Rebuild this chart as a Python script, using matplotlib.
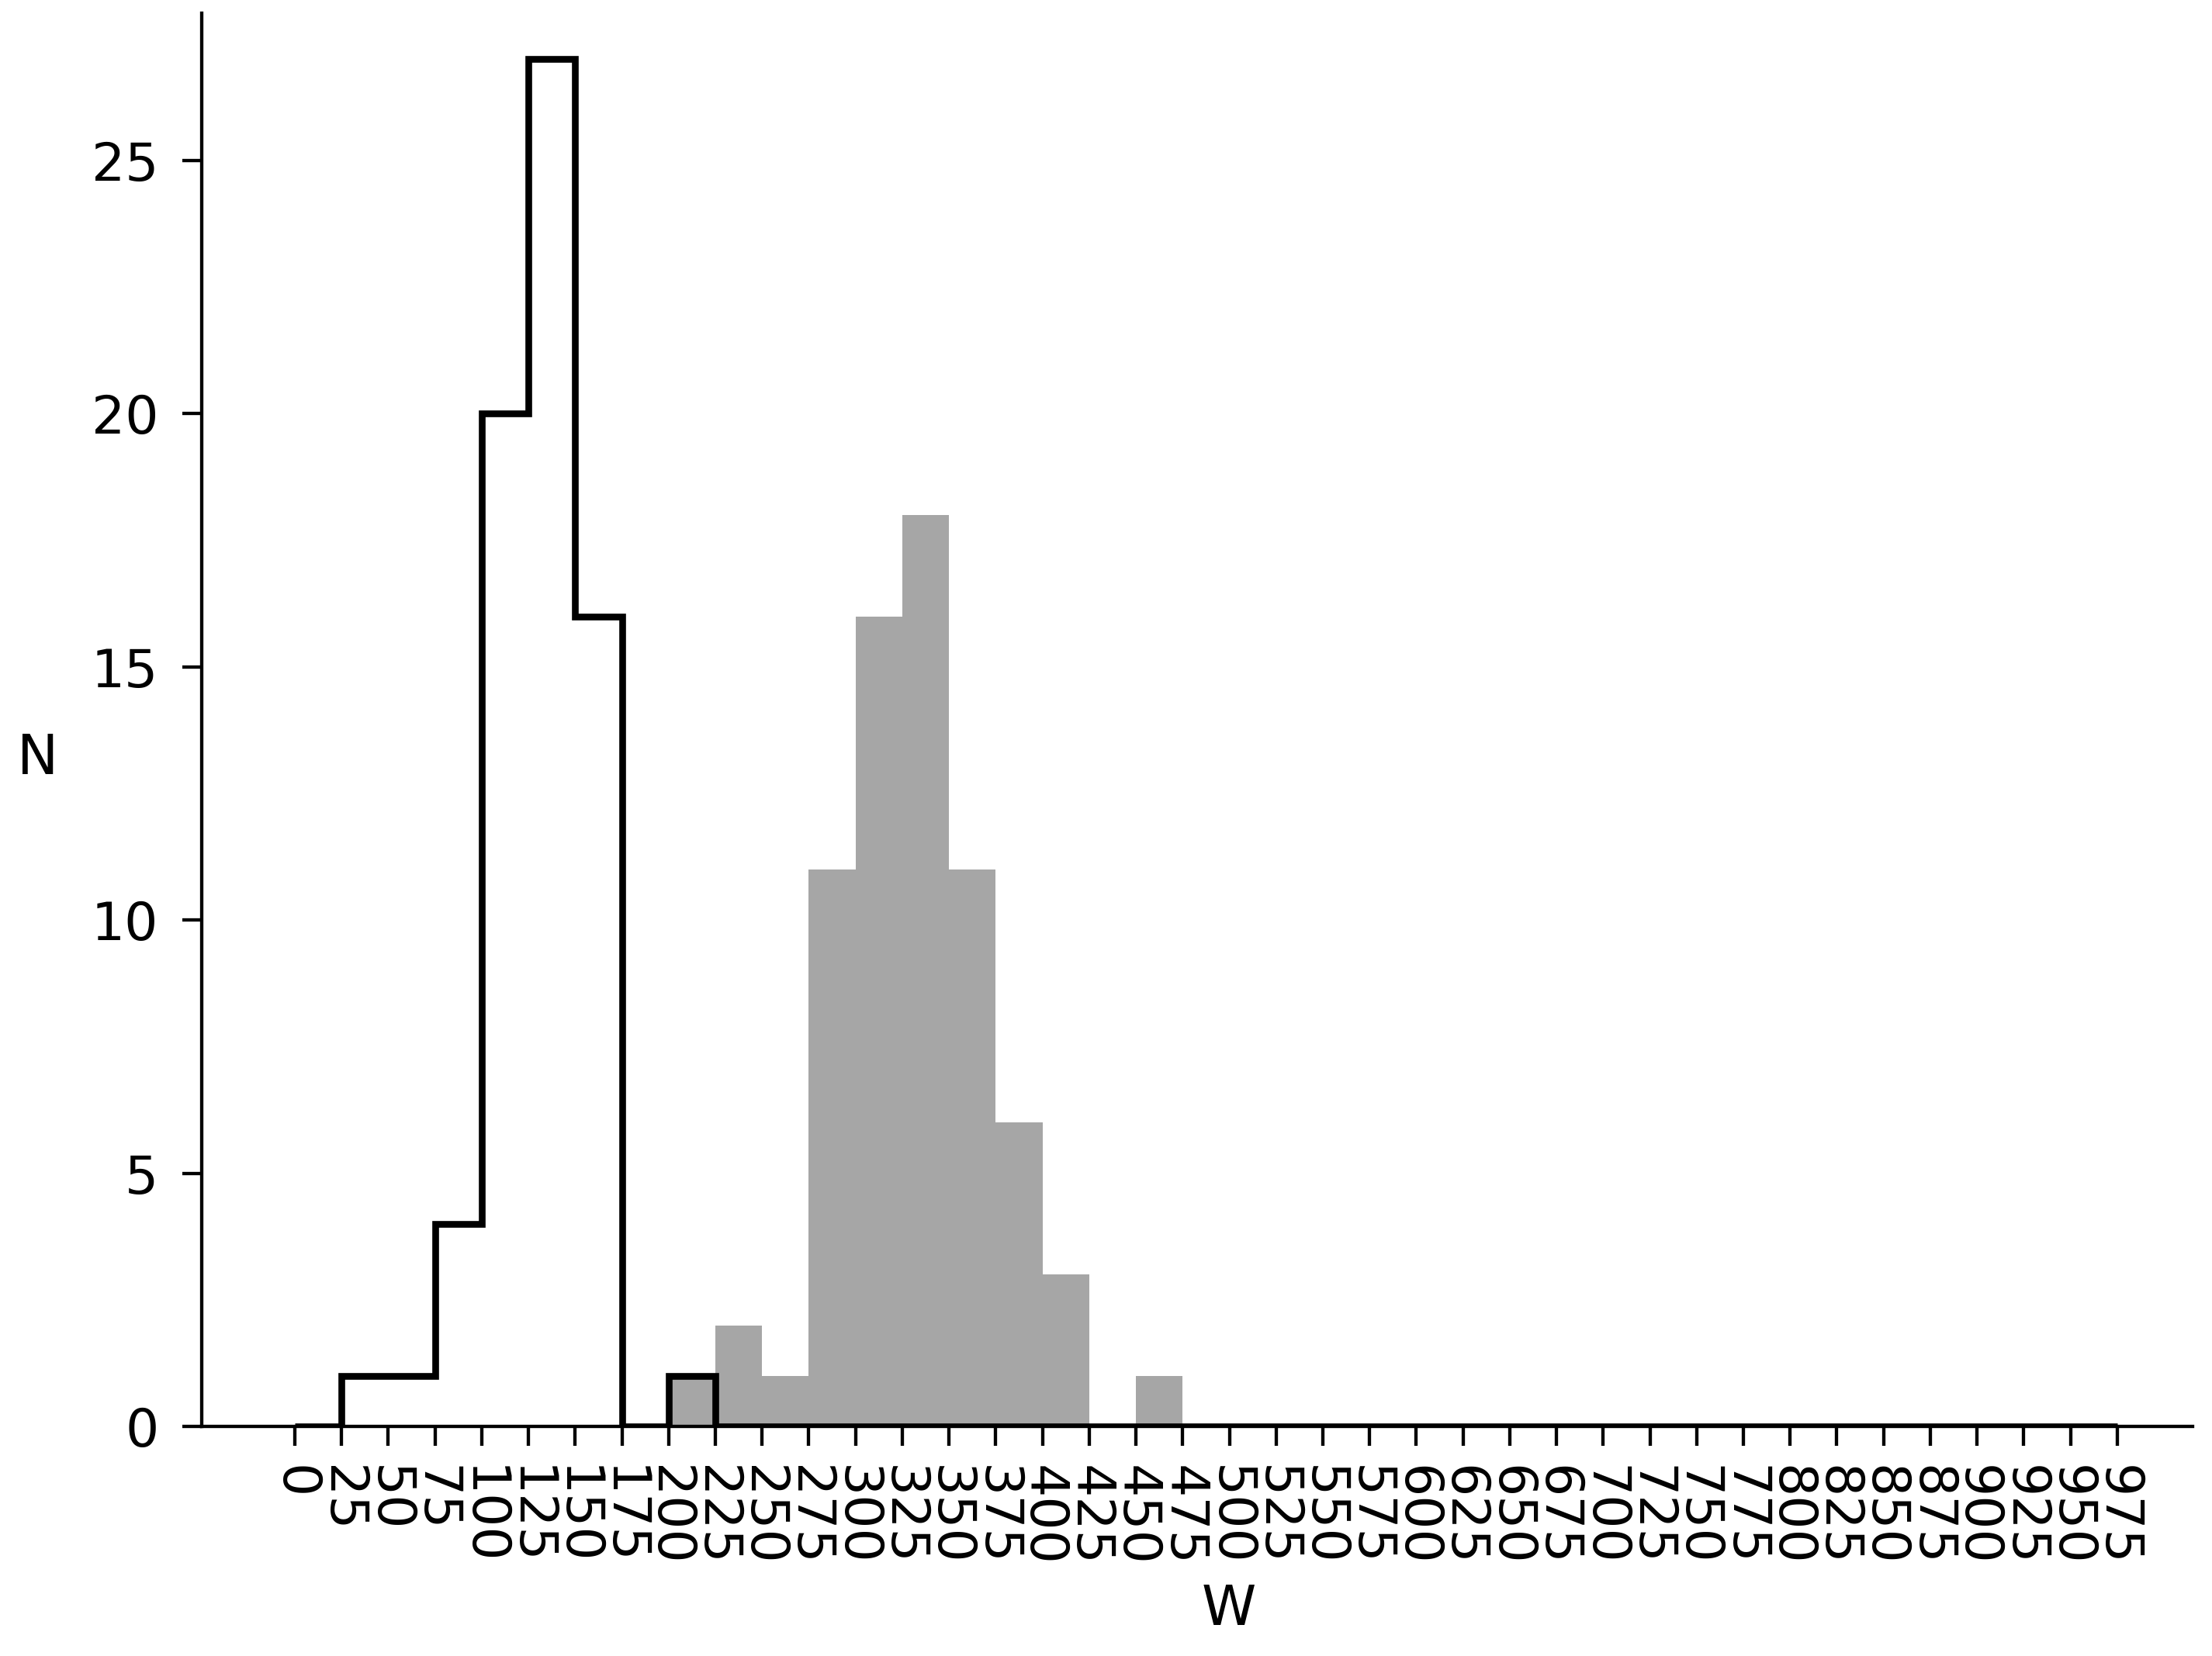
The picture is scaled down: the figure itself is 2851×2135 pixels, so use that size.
import numpy as np
import matplotlib.pyplot as plt

# bin edges 0..975 in steps of 25
edges = np.arange(0, 1000, 25)
tick_vals = np.arange(0, 1000, 25)

# black outline histogram
counts_black = [0, 1, 1, 4, 20, 27, 16, 0, 1] + [0] * 30
# grey filled histogram
counts_grey = [0, 0, 0, 0, 0, 0, 0, 0, 1, 2, 1, 11, 16, 18, 11, 6, 3, 0, 1] + [0] * 20

centers = edges[:-1] + 12.5

fig = plt.figure(figsize=(2851 / 445, 2135 / 445), dpi=445)
ax = fig.add_axes([0.0912, 0.1386, 0.900, 0.8534])

ax.hist(centers, bins=edges, weights=counts_grey, histtype='stepfilled',
        color='#a6a6a6', linewidth=0)
ax.hist(centers, bins=edges, weights=counts_black, histtype='step',
        color='black', linewidth=1.4)

ax.set_xlim(-49.8, 1015.3)
ax.set_ylim(0, 27.91)
ax.set_xticks(tick_vals)
ax.set_xticklabels([str(v) for v in tick_vals], rotation=270, fontsize=11)
ax.set_yticks([0, 5, 10, 15, 20, 25])
ax.tick_params(axis='y', labelsize=11, pad=5)
ax.tick_params(axis='x', pad=4)

for s in ['top', 'right']:
    ax.spines[s].set_visible(False)
for s in ['left', 'bottom']:
    ax.spines[s].set_linewidth(0.7)
ax.tick_params(width=0.7, length=4)

ax.set_xlabel('W', fontsize=11.5, va='center')
ax.xaxis.set_label_coords(0.516, -0.130)
ax.set_ylabel('N', fontsize=11.5, rotation=0, va='center', ha='center')
ax.yaxis.set_label_coords(-0.0822, 0.4726)

plt.savefig('out.png', dpi=445)
